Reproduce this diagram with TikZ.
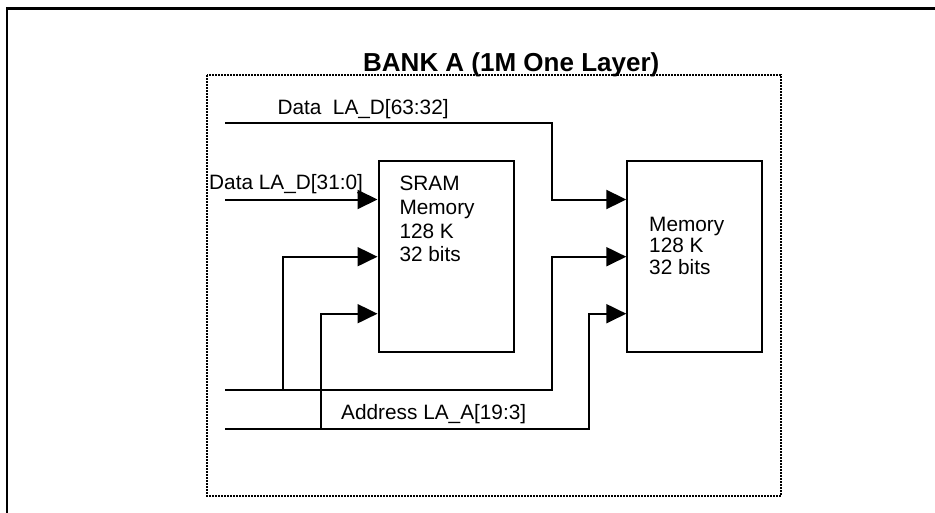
\documentclass[tikz,border=0pt]{standalone}
\usepackage{fontspec}
\setmainfont{Liberation Sans}
\usetikzlibrary{arrows.meta,calc}
\begin{document}
\begin{tikzpicture}[x=1pt,y=-1pt,
  wire/.style={line width=2pt, line join=miter},
  arr/.style={wire, -{Triangle[length=20pt,width=19pt]}},
  blockbox/.style={draw, line width=2pt, minimum width=135pt, minimum height=191pt, inner sep=0pt},
  lbl/.style={font=\fontsize{20.8}{24}\selectfont, anchor=base west, inner sep=0pt},
  ttl/.style={font=\bfseries\fontsize{26}{30}\selectfont, anchor=base west, inner sep=0pt},
]
\useasboundingbox (0,0) rectangle (935,512);

% outer frame (runs off the page to the right and bottom)
\draw[line width=2.5pt] (7,520) -- (7,8.5) -- (945,8.5);

% dotted bank outline
\draw[line width=1.8pt, dash pattern=on 1.6pt off 1.4pt] (207,75) rectangle (781,496);

% title
\node[ttl] (title) at (363,71) {BANK A (1M One Layer)};

% memory blocks
\node[blockbox] (sram) at (446,256.5) {};
\node[blockbox] (mem)  at (694.8,256.5) {};

% block texts
\node[lbl] (s1t) at (399.3,190.5) {SRAM};
\node[lbl] (s2t) at (399.3,214) {Memory};
\node[lbl] (s3t) at (399.3,238) {128 K};
\node[lbl] (s4t) at (399.3,261.7) {32 bits};
\node[lbl] (m1t) at (649,231) {Memory};
\node[lbl] (m2t) at (649,252.5) {128 K};
\node[lbl] (m3t) at (649,274) {32 bits};

% bus labels
\node[lbl] (d63t) at (277.3,114) {Data\ \ LA\_D[63:32]};
\node[lbl] (d31t) at (209,189.3) {Data LA\_D[31:0]};
\node[lbl] (adrt) at (341,419.3) {Address LA\_A[19:3]};

% bus ends on the left
\coordinate (d63) at (225,122.7);
\coordinate (d31) at (225,199.5);
\coordinate (aHi) at (225,390.3);
\coordinate (aLo) at (225,429);

% input pins of the blocks
\coordinate (s1) at (sram.west |- d31);
\coordinate (s2) at (sram.west |- 0,256.7);
\coordinate (s3) at (sram.west |- 0,313.7);
\coordinate (m1) at (mem.west |- d31);
\coordinate (m2) at (mem.west |- 0,256.7);
\coordinate (m3) at (mem.west |- 0,313.7);

% vertical routing columns
\coordinate (c1) at (282.7,0);
\coordinate (c2) at (321.3,0);
\coordinate (c3) at (551.5,0);
\coordinate (c4) at (589.3,0);

% data buses
\draw[arr] (d63) -| (c3 |- m1) -- (m1);
\draw[arr] (d31) -- (s1);

% address buses
\draw[arr] (aHi) -| (c3 |- m2) -- (m2);
\draw[arr] (c1 |- aHi) |- (s2);
\draw[arr] (aLo) -| (c4 |- m3) -- (m3);
\draw[arr] (c2 |- aLo) |- (s3);
\end{tikzpicture}
\end{document}
